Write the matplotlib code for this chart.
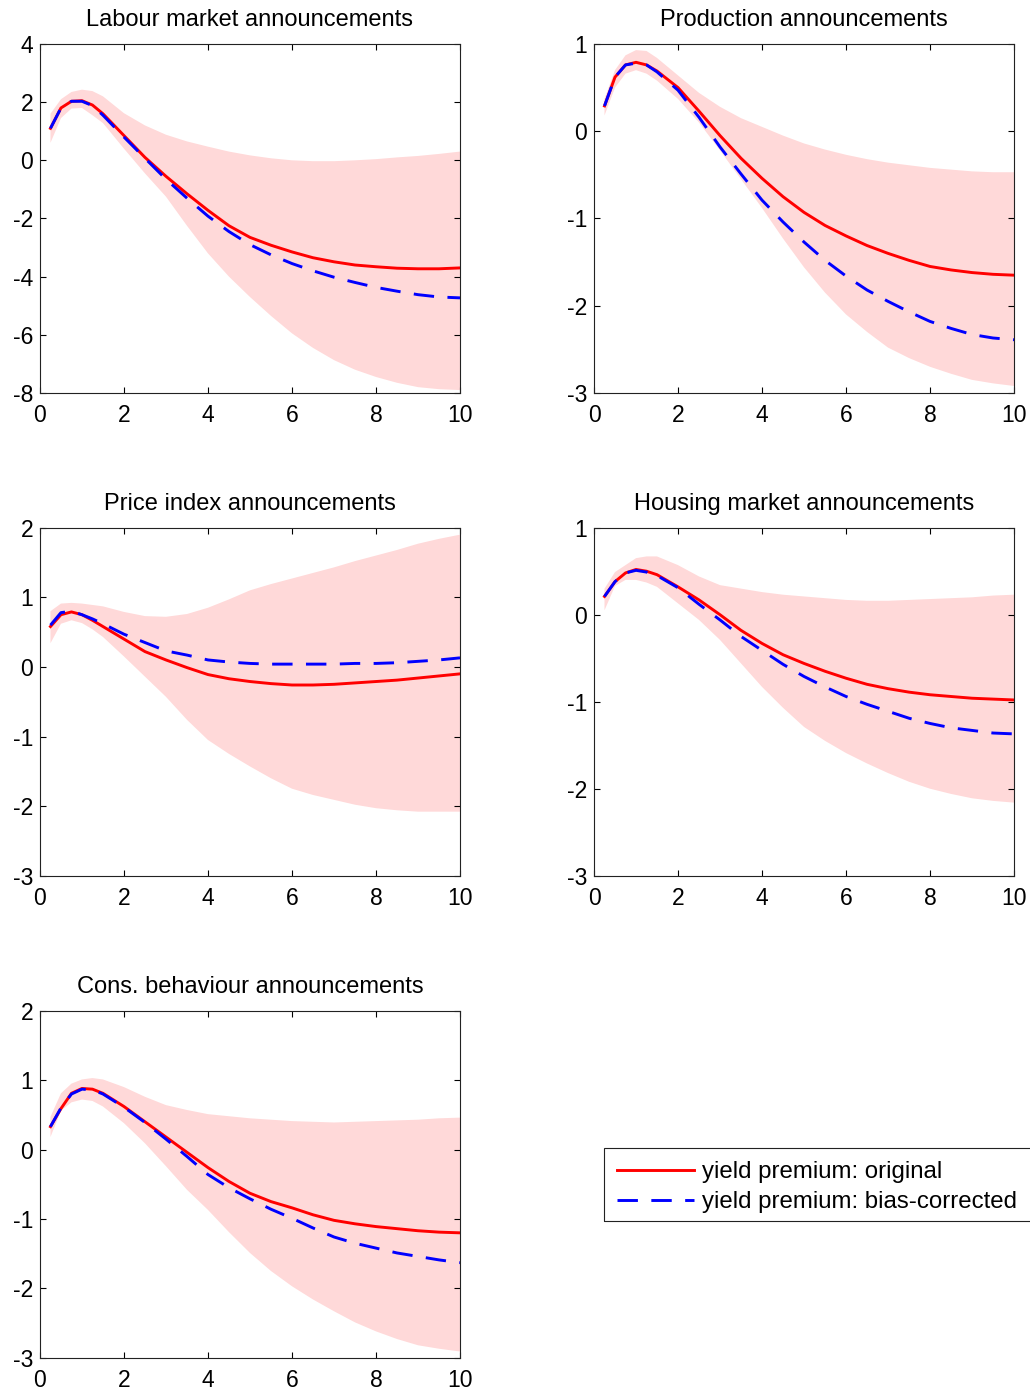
import matplotlib
matplotlib.use("Agg")
import matplotlib.pyplot as plt
from matplotlib.patches import Rectangle

plt.rcParams['font.family'] = ['Liberation Sans', 'DejaVu Sans']
plt.rcParams['axes.unicode_minus'] = False

# maturities (years)
maturity = [0.25, 0.5, 0.75, 1.0, 1.25, 1.5, 2.0, 2.5, 3.0, 3.5, 4.0, 4.5,
            5.0, 5.5, 6.0, 6.5, 7.0, 7.5, 8.0, 8.5, 9.0, 9.5, 10.0]

# labour market
labour_orig = [1.1, 1.8, 2.03, 2.05, 1.9, 1.6, 0.85, 0.1, -0.55, -1.15, -1.72, -2.25,
               -2.65, -2.92, -3.15, -3.35, -3.49, -3.6, -3.66, -3.71, -3.73, -3.73, -3.7]
labour_bias = [1.1, 1.8, 2.03, 2.03, 1.88, 1.55, 0.8, 0.07, -0.65, -1.3, -1.92, -2.45,
               -2.9, -3.25, -3.55, -3.8, -4.02, -4.2, -4.37, -4.5, -4.62, -4.7, -4.73]
labour_hi = [1.6, 2.1, 2.35, 2.43, 2.38, 2.2, 1.62, 1.2, 0.88, 0.65, 0.47, 0.3,
             0.17, 0.07, 0.0, -0.03, -0.03, 0.0, 0.04, 0.1, 0.15, 0.22, 0.3]
labour_lo = [0.6, 1.45, 1.78, 1.8, 1.55, 1.28, 0.4, -0.45, -1.25, -2.25, -3.2, -4.0,
             -4.7, -5.35, -5.95, -6.45, -6.87, -7.2, -7.45, -7.65, -7.8, -7.87, -7.9]

# production
prod_orig = [0.29, 0.62, 0.76, 0.79, 0.76, 0.69, 0.5, 0.23, -0.05, -0.31, -0.54, -0.75,
             -0.93, -1.08, -1.2, -1.31, -1.4, -1.48, -1.55, -1.59, -1.62, -1.64, -1.65]
prod_bias = [0.29, 0.62, 0.76, 0.78, 0.76, 0.68, 0.47, 0.16, -0.18, -0.49, -0.79, -1.04,
             -1.27, -1.48, -1.66, -1.82, -1.95, -2.07, -2.18, -2.26, -2.33, -2.37, -2.39]
prod_hi = [0.37, 0.7, 0.87, 0.93, 0.92, 0.84, 0.64, 0.44, 0.28, 0.15, 0.05, -0.05,
           -0.14, -0.21, -0.27, -0.32, -0.36, -0.39, -0.42, -0.44, -0.46, -0.47, -0.47]
prod_lo = [0.18, 0.5, 0.66, 0.7, 0.66, 0.58, 0.37, 0.1, -0.22, -0.55, -0.88, -1.23,
           -1.56, -1.85, -2.1, -2.3, -2.48, -2.6, -2.7, -2.78, -2.85, -2.89, -2.92]

# price index
price_orig = [0.58, 0.75, 0.79, 0.75, 0.67, 0.58, 0.4, 0.22, 0.1, -0.01, -0.11, -0.17,
              -0.21, -0.24, -0.26, -0.26, -0.25, -0.23, -0.21, -0.19, -0.16, -0.13, -0.1]
price_bias = [0.6, 0.78, 0.8, 0.75, 0.69, 0.62, 0.47, 0.35, 0.23, 0.17, 0.1, 0.07,
              0.05, 0.04, 0.04, 0.04, 0.04, 0.05, 0.05, 0.06, 0.08, 0.1, 0.13]
price_hi = [0.8, 0.91, 0.92, 0.91, 0.89, 0.87, 0.79, 0.73, 0.72, 0.76, 0.85, 0.97,
            1.1, 1.19, 1.27, 1.35, 1.43, 1.52, 1.6, 1.68, 1.77, 1.84, 1.9]
price_lo = [0.34, 0.62, 0.67, 0.63, 0.54, 0.43, 0.15, -0.14, -0.43, -0.76, -1.05, -1.25,
            -1.43, -1.6, -1.75, -1.84, -1.91, -1.98, -2.03, -2.06, -2.08, -2.08, -2.08]

# housing market
house_orig = [0.21, 0.38, 0.48, 0.52, 0.5, 0.46, 0.32, 0.17, 0.0, -0.18, -0.33, -0.46,
              -0.56, -0.65, -0.73, -0.8, -0.85, -0.89, -0.92, -0.94, -0.96, -0.97, -0.98]
house_bias = [0.21, 0.38, 0.48, 0.51, 0.49, 0.45, 0.31, 0.12, -0.06, -0.25, -0.41, -0.57,
              -0.71, -0.83, -0.94, -1.03, -1.11, -1.19, -1.25, -1.3, -1.33, -1.36, -1.37]
house_hi = [0.3, 0.49, 0.57, 0.65, 0.67, 0.67, 0.57, 0.44, 0.34, 0.3, 0.26, 0.23,
            0.21, 0.19, 0.17, 0.16, 0.16, 0.17, 0.18, 0.19, 0.2, 0.22, 0.23]
house_lo = [0.05, 0.33, 0.4, 0.4, 0.37, 0.32, 0.13, -0.06, -0.29, -0.56, -0.83, -1.07,
            -1.29, -1.45, -1.59, -1.71, -1.82, -1.92, -2.0, -2.06, -2.11, -2.14, -2.16]

# consumer behaviour
cons_orig = [0.33, 0.59, 0.81, 0.88, 0.87, 0.81, 0.62, 0.4, 0.18, -0.04, -0.26, -0.46,
             -0.63, -0.75, -0.84, -0.94, -1.02, -1.07, -1.11, -1.14, -1.17, -1.19, -1.2]
cons_bias = [0.33, 0.6, 0.8, 0.87, 0.86, 0.8, 0.61, 0.39, 0.15, -0.1, -0.36, -0.55,
             -0.71, -0.86, -0.99, -1.13, -1.26, -1.35, -1.42, -1.49, -1.54, -1.59, -1.63]
cons_hi = [0.47, 0.81, 0.95, 1.01, 1.03, 1.01, 0.9, 0.76, 0.64, 0.57, 0.51, 0.48,
           0.45, 0.43, 0.41, 0.4, 0.39, 0.4, 0.41, 0.42, 0.43, 0.45, 0.46]
cons_lo = [0.18, 0.56, 0.68, 0.72, 0.7, 0.62, 0.38, 0.09, -0.24, -0.58, -0.87, -1.19,
           -1.49, -1.75, -1.97, -2.16, -2.33, -2.49, -2.62, -2.73, -2.82, -2.87, -2.91]

titles = ['Labour market announcements', 'Production announcements',
          'Price index announcements', 'Housing market announcements',
          'Cons. behaviour announcements']
x_ticks = [0, 2, 4, 6, 8, 10]

panels = [
    (labour_orig, labour_bias, labour_lo, labour_hi, (-8, 4), [-8, -6, -4, -2, 0, 2, 4]),
    (prod_orig, prod_bias, prod_lo, prod_hi, (-3, 1), [-3, -2, -1, 0, 1]),
    (price_orig, price_bias, price_lo, price_hi, (-3, 2), [-3, -2, -1, 0, 1, 2]),
    (house_orig, house_bias, house_lo, house_hi, (-3, 1), [-3, -2, -1, 0, 1]),
    (cons_orig, cons_bias, cons_lo, cons_hi, (-3, 2), [-3, -2, -1, 0, 1, 2]),
]

# axes rectangles [left, bottom, width, height] in figure fractions
rects = [
    [0.0388, 0.7177, 0.4078, 0.2507],
    [0.5767, 0.7177, 0.4078, 0.2507],
    [0.0388, 0.3709, 0.4078, 0.2500],
    [0.5767, 0.3709, 0.4078, 0.2500],
    [0.0388, 0.0246, 0.4078, 0.2493],
]

W, H = 1030, 1392
fig = plt.figure(figsize=(W / 100, H / 100), dpi=100)

for i, (orig, bias, lo, hi, ylim, yticks) in enumerate(panels):
    ax = fig.add_axes(rects[i])
    ax.fill_between(maturity, lo, hi, facecolor='#ffd9d9', edgecolor='none', linewidth=0)
    l1, = ax.plot(maturity, orig, color='#ff0000', linewidth=2.1,
                  label='yield premium: original')
    l2, = ax.plot(maturity, bias, color='#0000ff', linewidth=2.1, linestyle=(0, (7.0, 4.6)),
                  label='yield premium: bias-corrected')
    ax.set_xlim(0, 10)
    ax.set_ylim(*ylim)
    ax.set_xticks(x_ticks)
    ax.set_yticks(yticks)
    ax.set_title(titles[i], fontsize=17, pad=13)
    ax.tick_params(direction='in', top=True, right=True, length=4, width=0.8,
                   labelsize=16.5, colors='#000000')
    ax.tick_params(axis='x', pad=8)
    ax.tick_params(axis='y', pad=5)
    for s in ax.spines.values():
        s.set_linewidth(0.8)
        s.set_color('#222222')

# legend box runs off the right edge of the figure
box = Rectangle((604 / W, 1 - 1221 / H), 460 / W, 73 / H, transform=fig.transFigure,
                fill=False, edgecolor='#222222', linewidth=0.8)
fig.patches.append(box)

fig.legend(handles=[l1, l2], loc='upper left',
           bbox_to_anchor=(617 / W, 1 - 1161 / H),
           fontsize=17.3, frameon=False, handlelength=3.2, handletextpad=0.35,
           borderpad=0, labelspacing=0.33, borderaxespad=0)

fig.savefig('out.png', dpi=100)
